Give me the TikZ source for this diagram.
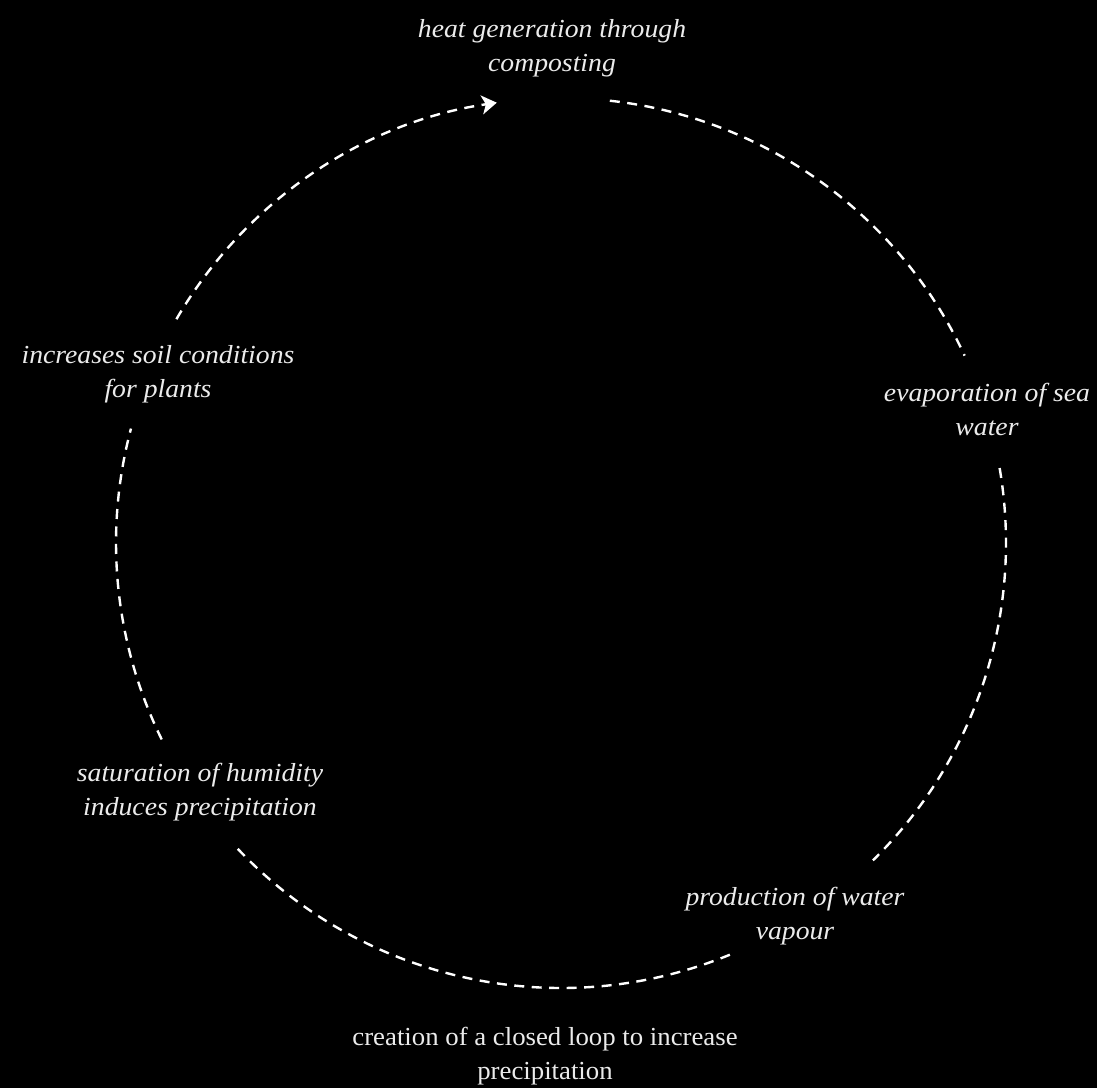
\documentclass[tikz,border=0pt]{standalone}
\usepackage{fontspec}
\setmainfont{Liberation Serif}[UprightFeatures={FakeStretch=1.03},ItalicFeatures={FakeStretch=1.065}]
\usetikzlibrary{arrows.meta}
\begin{document}
\begin{tikzpicture}[x=1pt,y=-1pt,
  lbl/.style={text=white!92!black,align=center,font=\fontsize{26}{34}\selectfont\itshape},
  plainlbl/.style={text=white!92!black,align=center,font=\fontsize{26}{34}\selectfont},
  loop/.style={draw=white,line width=2.4pt,dash pattern=on 10pt off 7.5pt}]
\fill[black] (0,0) rectangle (1097,1088);
\useasboundingbox (0,0) rectangle (1097,1088);
\coordinate (O) at (561,543);
\def\R{445}
\node[lbl] (heat) at (552,48) {heat generation through\\composting};
\node[lbl] (evap) at (987,409) {evaporation of sea\\water};
\node[lbl] (prod) at (795,916) {production of water\\vapour};
\node[lbl] (sat) at (200,792) {saturation of humidity\\induces precipitation};
\node[lbl] (soil) at (158,374) {increases soil conditions\\for plants};
\node[plainlbl] (loopnote) at (545,1056) {creation of a closed loop to increase\\precipitation};
% arc start points on the circle (angles negated because y points down)
\path (O) ++(-83.7:\R) coordinate (s1);
\path (O) ++(-9.7:\R) coordinate (s2);
\path (O) ++(67.7:\R) coordinate (s3);
\path (O) ++(153.8:\R) coordinate (s4);
\path (O) ++(210.2:\R) coordinate (s5);
\draw[loop] (s1) arc[start angle=-83.7,end angle=-24.9,radius=\R];
\draw[loop] (s2) arc[start angle=-9.7,end angle=45.5,radius=\R];
\draw[loop] (s3) arc[start angle=67.7,end angle=137.5,radius=\R];
\draw[loop] (s4) arc[start angle=153.8,end angle=194.9,radius=\R];
\draw[loop,-{Stealth[length=15pt,width=19pt,inset=4pt]}] (s5) arc[start angle=210.2,end angle=261.7,radius=\R];
\end{tikzpicture}
\end{document}
